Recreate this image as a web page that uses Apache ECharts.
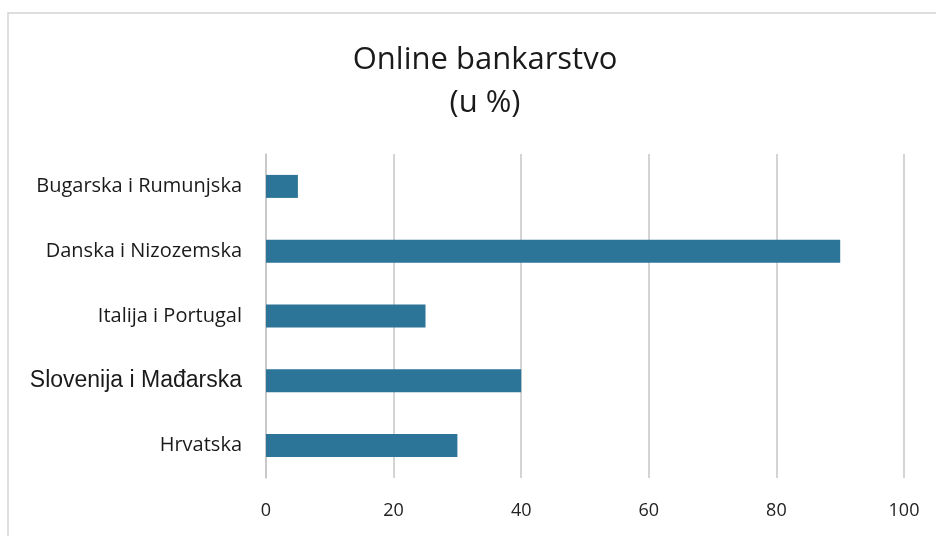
<!DOCTYPE html>
<html>
<head>
<meta charset="utf-8">
<script src="https://cdn.jsdelivr.net/npm/echarts@6/dist/echarts.min.js"></script>
<style>html,body{margin:0;padding:0;background:#fff;}#c{width:936px;height:536px;}</style>
</head>
<body>
<div id="c"></div>
<script>
const categories = ["Hrvatska", "Slovenija i Mađarska", "Italija i Portugal", "Danska i Nizozemska", "Bugarska i Rumunjska"];
const values = [30, 40, 25, 90, 5];
const xTicks = [0, 20, 40, 60, 80, 100];

const chart = echarts.init(document.getElementById('c'));
chart.setOption({
  backgroundColor: '#ffffff',
  animation: false,
  graphic: [{
    type: 'rect', shape: {x: 8, y: 13, width: 940, height: 540},
    style: {fill: 'none', stroke: '#d4d4d4', lineWidth: 1.5}, silent: true
  }],
  title: {
    text: 'Online bankarstvo\n(u %)',
    left: 480, top: 34, textAlign: 'center',
    textStyle: {fontFamily: 'Open Sans', fontSize: 31, fontWeight: 'normal', color: '#1a1a1a', lineHeight: 43}
  },
  grid: {left: 266, right: 32, top: 154, bottom: 58},
  xAxis: {
    type: 'value', min: xTicks[0], max: xTicks[xTicks.length - 1], interval: 20,
    axisLine: {show: false}, axisTick: {show: false},
    splitLine: {lineStyle: {color: '#c6c6c6', width: 1.5}},
    axisLabel: {fontFamily: 'Open Sans', fontSize: 18, color: '#222', margin: 24}
  },
  yAxis: {
    type: 'category', data: categories,
    axisLine: {show: true, lineStyle: {color: '#c6c6c6', width: 1.5}},
    axisTick: {show: false},
    axisLabel: {
      fontFamily: 'Open Sans', fontSize: 20, color: '#1a1a1a', margin: 24,
      formatter: function (v) { return v === 'Slovenija i Mađarska' ? '{a|' + v + '}' : v; },
      rich: {a: {fontFamily: 'Liberation Sans', fontSize: 23, color: '#1a1a1a'}}
    }
  },
  series: [{
    type: 'bar', data: values, barWidth: 23,
    itemStyle: {color: '#2C7598'}
  }]
});
</script>
</body>
</html>
